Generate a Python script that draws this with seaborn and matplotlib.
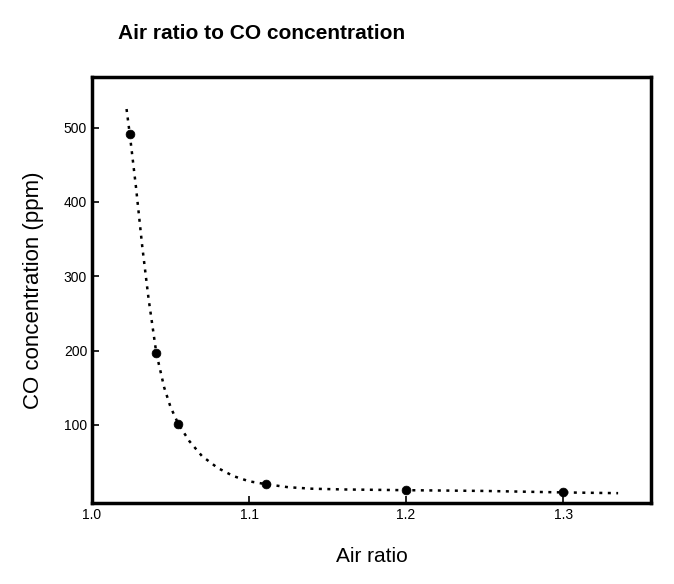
import matplotlib
matplotlib.use("Agg")
import matplotlib.pyplot as plt
import pandas as pd
import seaborn as sns

# measured points
AIR_RATIO = [1.024, 1.041, 1.055, 1.111, 1.200, 1.300]
CO_PPM = [492, 196, 101, 20, 12, 9]

# dotted trend curve
CURVE_X = [1.022, 1.024, 1.028, 1.032, 1.036, 1.041, 1.046, 1.050, 1.055,
           1.062, 1.070, 1.080, 1.090, 1.100, 1.111, 1.125, 1.140, 1.160,
           1.200, 1.250, 1.300, 1.335]
CURVE_Y = [525, 492, 420, 340, 270, 196, 150, 124, 101,
           78, 58, 42, 31, 24, 20, 16, 14, 13,
           12, 11, 9, 8]

X_TICKS = [1.0, 1.1, 1.2, 1.3]
Y_TICKS = [100, 200, 300, 400, 500]

sns.set_theme(style="white")
plt.rcParams["font.family"] = ["Liberation Sans", "DejaVu Sans"]
plt.rcParams["text.color"] = "black"
plt.rcParams["axes.labelcolor"] = "black"

pts = pd.DataFrame({"air": AIR_RATIO, "co": CO_PPM})
curve = pd.DataFrame({"air": CURVE_X, "co": CURVE_Y})

fig = plt.figure(figsize=(6.74, 5.84), dpi=100)
ax = fig.add_axes([0.1365, 0.139, 0.8295, 0.729])

sns.lineplot(data=curve, x="air", y="co", ax=ax, color="black",
             linestyle=(0, (1.2, 2.2)), linewidth=1.8, sort=False)
sns.scatterplot(data=pts, x="air", y="co", ax=ax, color="black",
                s=40, edgecolor="black", zorder=3)

ax.set_xlim(1.0, 1.356)
ax.set_ylim(-5, 568)
ax.set_xticks(X_TICKS)
ax.set_xticklabels([f"{v:.1f}" for v in X_TICKS])
ax.set_yticks(Y_TICKS)
ax.tick_params(direction="in", length=5, width=1.2, labelsize=10,
               bottom=True, left=True, colors="black")
for sp in ax.spines.values():
    sp.set_linewidth(2.5)
    sp.set_color("black")

ax.set_xlabel("Air ratio", fontsize=15, labelpad=18)
ax.set_ylabel("CO concentration (ppm)", fontsize=16, labelpad=14)
fig.text(0.175, 0.943, "Air ratio to CO concentration",
         fontsize=15, fontweight="bold", va="center", color="black")

fig.savefig("out.png", dpi=100)
